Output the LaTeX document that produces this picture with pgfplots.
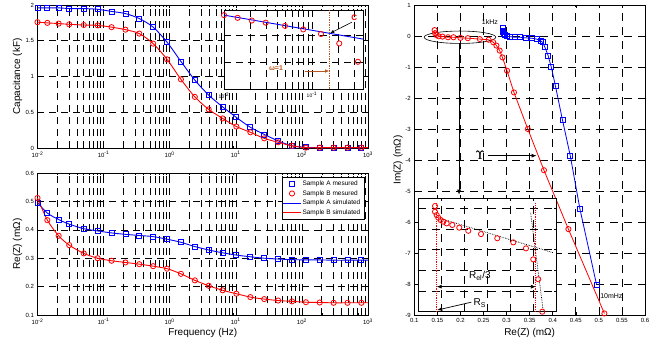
\documentclass[border=0pt]{standalone}
\usepackage{fontspec}
\setmainfont{Liberation Sans}
\usepackage{pgfplots}
\usepackage{pgfplotstable}
\pgfplotsset{compat=1.18}
\usetikzlibrary{arrows.meta,shapes.geometric}
\definecolor{mblue}{RGB}{0,0,255}
\definecolor{mred}{RGB}{255,0,0}
\definecolor{mbrown}{RGB}{185,85,30}

\pgfplotsset{
  base/.style={
    scale only axis, clip=false,
    axis line style={black, line width=0.8pt},
    tick style={black, line width=0.5pt},
    tick align=inside,
    major tick length=3pt, minor tick length=2pt,
    ticklabel style={font=\fontsize{6}{7}\selectfont},
    label style={font=\fontsize{8}{9}\selectfont},
    /pgf/number format/assume math mode=true,
    grid style={black, line width=0.6pt, dash pattern=on 7pt off 5pt},
    minor grid style={black, line width=0.6pt, dash pattern=on 7pt off 5pt},
    every axis y label/.style={at={(axis description cs:0,0.5)}, rotate=90, anchor=center},
    every axis x label/.style={at={(axis description cs:0.5,0)}, anchor=center},
  },
  logx/.style={
    xmin=0.01, xmax=1000,
    xtick={0.01,0.1,1,10,100,1000},
    xticklabels={10\textsuperscript{-2},10\textsuperscript{-1},10\textsuperscript{0},10\textsuperscript{1},10\textsuperscript{2},10\textsuperscript{3}},
    minor xtick={0.02,0.03,0.04,0.05,0.06,0.07,0.08,0.09,0.2,0.3,0.4,0.5,0.6,0.7,0.8,0.9,2,3,4,5,6,7,8,9,20,30,40,50,60,70,80,90,200,300,400,500,600,700,800,900},
    grid=both,
  },
  mA/.style={draw=mblue, color=mblue, line width=0.8pt, only marks, mark=square, mark size=2.5pt},
  mB/.style={draw=mred, color=mred, line width=0.8pt, only marks, mark=o, mark size=2.6pt},
  sA/.style={draw=mblue, color=mblue, line width=0.9pt, no marks, smooth},
  sB/.style={draw=mred, color=mred, line width=0.9pt, no marks, smooth},
}

% frequency data: capacitance (kF) and Re(Z) (mOhm)
\pgfplotstableread{
f       cA     cB     rA     rB
0.01    1.96   1.76   0.496  0.512
0.0141  1.96   1.75   0.459  0.434
0.0209  1.96   1.74   0.436  0.379
0.0302  1.95   1.73   0.420  0.346
0.0501  1.95   1.72   0.404  0.317
0.0813  1.94   1.715  0.396  0.300
0.132   1.91   1.69   0.389  0.291
0.214   1.88   1.655  0.384  0.285
0.347   1.81   1.60   0.380  0.279
0.562   1.69   1.46   0.376  0.272
0.912   1.48   1.24   0.367  0.263
1.48    1.21   0.96   0.356  0.245
2.40    0.95   0.715  0.341  0.222
3.89    0.74   0.54   0.329  0.203
6.31    0.576  0.414  0.319  0.187
10.2    0.428  0.30   0.311  0.175
16.6    0.29   0.22   0.305  0.163
26.9    0.19   0.135  0.300  0.156
43.7    0.10   0.08   0.297  0.151
70.8    0.03   0.03   0.295  0.148
115     0.01   0.005  0.294  0.145
186     0.005  0.005  0.294  0.144
302     0.005  0.005  0.293  0.143
490     0.005  0.005  0.293  0.143
794     0.005  0.005  0.293  0.143
1000    0.005  0.005  0.293  0.143
}\freq

% Nyquist data
\pgfplotstableread{
re     im
0.144  0.19
0.145  0.09
0.148  0.03
0.153  -0.01
0.161  -0.02
0.173  -0.04
0.185  -0.04
0.200  -0.06
0.216  -0.07
0.242  -0.10
0.261  -0.12
0.271  -0.20
0.278  -0.31
0.285  -0.47
0.291  -0.69
0.301  -1.12
0.316  -1.82
0.346  -3.00
0.381  -4.33
0.434  -6.23
0.512  -8.95
}\nyqB
\pgfplotstableread{
re     im
0.291  0.25
0.292  0.18
0.293  0.12
0.294  0.06
0.296  0.03
0.300  -0.01
0.307  -0.02
0.318  -0.04
0.329  -0.04
0.342  -0.06
0.354  -0.07
0.365  -0.10
0.374  -0.16
0.378  -0.20
0.383  -0.36
0.390  -0.63
0.397  -1.01
0.406  -1.62
0.421  -2.70
0.438  -3.86
0.459  -5.58
0.495  -8.02
}\nyqA

% top-left inset (zoom of low-frequency capacitance, arbitrary units)
\pgfplotstableread{
f       v
0.0100  2.74
0.0143  2.64
0.0207  2.54
0.0298  2.46
0.0493  2.34
0.0796  2.21
0.1265  2.04
0.204   1.69
0.333   1.01
}\insetC

% right inset (zoom of sample B near high frequency, arbitrary units)
\pgfplotstableread{
u      v
0.724  5.106
0.724  4.83
0.797  4.67
0.867  4.54
0.971  4.43
1.084  4.35
1.23   4.27
1.474  4.19
1.777  4.06
2.167  3.91
2.718  3.75
3.424  3.55
4.118  3.35
4.668  3.06
4.985  2.53
5.20   1.57
5.375  0.0
}\insetN

\begin{document}
\begin{tikzpicture}
\useasboundingbox (0,0) rectangle (667pt,338pt);

% ---------------- top-left: capacitance ----------------
\begin{axis}[xmode=log, base, logx, at={(37.5pt,190pt)}, anchor=south west,
  width=330.5pt, height=143pt,
  ymin=0, ymax=2, ytick={0,0.5,1,1.5,2},
  ylabel={Capacitance (kF)}, ylabel style={yshift=20pt},
]
\addplot[sA] table[x=f,y=cA]{\freq};
\addplot[sB] table[x=f,y=cB]{\freq};
\addplot[mA, skip coords between index={25}{26}] table[x=f,y=cA]{\freq};
\addplot[mB, skip coords between index={25}{26}] table[x=f,y=cB]{\freq};
\end{axis}

% inset of top-left
\begin{axis}[xmode=log, base, at={(224pt,249pt)}, anchor=south west,
  width=139.3pt, height=79pt,
  axis background/.style={fill=white},
  xmin=0.01, xmax=0.383, ymin=0, ymax=2.93,
  xtick={0.01,0.1}, xticklabels={10\textsuperscript{-2},10\textsuperscript{-1}},
  minor xtick={0.02,0.03,0.04,0.05,0.06,0.07,0.08,0.09,0.2,0.3},
  ytick={1,2}, yticklabels={},
  grid=both,
  ticklabel style={font=\fontsize{5}{6}\selectfont},
]
\addplot[mblue, line width=0.9pt, no marks] coordinates {(0.01,2.74) (0.383,1.85)};
\addplot[mB] table[x=f,y=v]{\insetC};
\draw[mbrown, densely dotted, line width=0.7pt] (axis cs:0.159,0) -- (axis cs:0.159,2.93);
\draw[mbrown, line width=0.8pt, -{Latex[length=4pt,width=3.5pt]}] (axis cs:0.0832,0.667) -- (axis cs:0.157,0.667);
\node[mbrown, font=\bfseries\fontsize{7}{8}\selectfont] at (axis cs:0.039,0.78) {ω=1};
\node[mred, font=\bfseries\fontsize{8}{9}\selectfont] at (axis cs:0.303,2.66) {C};
\draw[black, line width=0.6pt, -{Latex[length=4pt,width=3.5pt]}] (axis cs:0.285,2.48) -- (axis cs:0.161,2.07);
\end{axis}

% ---------------- bottom-left: Re(Z) ----------------
\begin{axis}[xmode=log, base, logx, at={(37.5pt,23pt)}, anchor=south west,
  width=330.5pt, height=142pt,
  ymin=0.1, ymax=0.6, ytick={0.1,0.2,0.3,0.4,0.5,0.6},
  ylabel={Re(Z) (mΩ)}, ylabel style={yshift=20pt},
  xlabel={Frequency (Hz)}, xlabel style={yshift=-18pt},
  legend style={at={(0.988,0.972)}, anchor=north east,
    font=\fontsize{6.5}{7.5}\selectfont, inner sep=1.5pt, row sep=-0.5pt},
  legend cell align=left,
]
\addplot[mA, skip coords between index={25}{26}] table[x=f,y=rA]{\freq};
\addlegendentry{Sample A mesured}
\addplot[mB, skip coords between index={25}{26}] table[x=f,y=rB]{\freq};
\addlegendentry{Sample B mesured}
\addplot[sA, forget plot] table[x=f,y=rA]{\freq};
\addplot[sB, forget plot] table[x=f,y=rB]{\freq};
\addlegendimage{legend image code/.code={\fill[fill=mblue, draw=none] (0cm,-0.45pt) rectangle (0.6cm,0.45pt);}}
\addlegendentry{Sample A simulated}
\addlegendimage{legend image code/.code={\fill[fill=mred, draw=none] (0cm,-0.45pt) rectangle (0.6cm,0.45pt);}}
\addlegendentry{Sample B simulated}
\end{axis}

% ---------------- right: Nyquist ----------------
\begin{axis}[base, at={(414.3pt,23pt)}, anchor=south west,
  width=230.7pt, height=310pt,
  xmin=0.1, xmax=0.6, ymin=-9, ymax=1,
  xtick={0.1,0.15,0.2,0.25,0.3,0.35,0.4,0.45,0.5,0.55,0.6},
  xticklabels={0.1,0.15,0.2,0.25,0.3,0.35,0.4,0.45,0.5,0.55,0.6},
  ytick={-9,-8,-7,-6,-5,-4,-3,-2,-1,0,1},
  grid=major,
  grid style={black, line width=0.6pt, dash pattern=on 8pt off 6pt},
  xlabel={Re(Z) (mΩ)}, xlabel style={yshift=-17.5pt},
  ylabel={Im(Z) (mΩ)}, ylabel style={yshift=16.3pt},
]
\addplot[mred, line width=0.8pt, mark=o, mark size=2.6pt] table[x=re,y=im]{\nyqB};
\addplot[mblue, line width=0.8pt, mark=square, mark size=2.5pt] table[x=re,y=im]{\nyqA};
\node[draw=black, line width=0.6pt, ellipse, inner sep=0pt, minimum width=71.6pt, minimum height=12.4pt] at (axis cs:0.199,-0.04) {};
\draw[black, line width=0.7pt, -{Latex[length=5pt,width=4pt]}] (axis cs:0.197,-0.24) -- (axis cs:0.197,-5.12);
\node[font=\fontsize{7}{8}\selectfont] at (axis cs:0.264,0.46) {1kHz};
\draw[black, line width=0.5pt] (axis cs:0.5005,-8.1) -- (axis cs:0.5005,-8.5);
\node[anchor=west, inner sep=0.5pt, font=\fontsize{7}{8}\selectfont] at (axis cs:0.5015,-8.38) {10mHz};
\node[font=\fontsize{12}{13}\selectfont] at (axis cs:0.242,-3.84) {$\Upsilon$};
\node[font=\fontsize{12}{13}\selectfont, xshift=0.35pt] at (axis cs:0.242,-3.84) {$\Upsilon$};
\draw[black, line width=0.7pt, -{Latex[length=5pt,width=4pt]}] (axis cs:0.259,-3.86) -- (axis cs:0.365,-3.86);
\end{axis}

% inset of Nyquist
\begin{axis}[base, at={(418.3pt,26.3pt)}, anchor=south west,
  width=138.4pt, height=113.4pt,
  axis background/.style={fill=white},
  xmin=0, xmax=6, ymin=0, ymax=5.48,
  xtick={1,2,3,4,5}, ytick={1,2,3,4,5},
  xticklabels={}, yticklabels={},
  grid=major,
  grid style={black, line width=0.6pt, dash pattern=on 8pt off 6pt},
]
\addplot[black, densely dotted, line width=0.7pt, no marks] coordinates {(0.797,4.56) (5.85,2.85)};
\addplot[black, densely dotted, line width=0.7pt, no marks] coordinates {(4.87,4.78) (5.42,0)};
\addplot[mred, densely dotted, line width=0.8pt, no marks] coordinates {(0.767,0) (0.767,5.24)};
\addplot[mred, densely dotted, line width=0.8pt, no marks] coordinates {(5.06,0) (5.06,5.24)};
\addplot[mB] table[x=u,y=v]{\insetN};
\draw[black, line width=0.7pt, arrows={Latex[length=5pt,width=4pt]-Latex[length=5pt,width=4pt]}] (axis cs:0.797,1.21) -- (axis cs:5.10,1.21);
\node[font=\fontsize{10}{11}\selectfont] at (axis cs:2.67,1.72) {R\textsubscript{el}/3};
\node[font=\fontsize{10}{11}\selectfont] at (axis cs:2.67,0.41) {R\textsubscript{S}};
\draw[black, line width=0.7pt, -{Latex[length=5pt,width=4pt]}] (axis cs:2.3,0.46) -- (axis cs:0.82,0.08);
\end{axis}
\end{tikzpicture}
\end{document}
